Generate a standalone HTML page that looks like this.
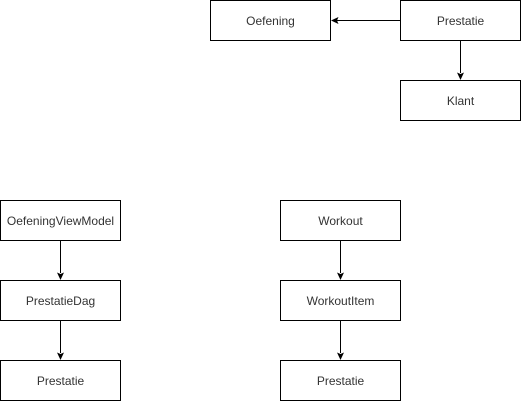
<!DOCTYPE html>
<html><head><meta charset="utf-8"><style>
html,body{margin:0;padding:0;background:#fff;width:521px;height:401px;overflow:hidden}
text{font-family:"Liberation Sans",Helvetica,Arial,sans-serif;font-size:12px;fill:#333}
</style></head><body>
<svg width="521" height="401" xmlns="http://www.w3.org/2000/svg">
<g fill="#fff" stroke="#000" stroke-width="1">
<rect x="210.5" y="0.5" width="120" height="40"/>
<rect x="400.5" y="0.5" width="120" height="40"/>
<rect x="400.5" y="80.5" width="120" height="40"/>
<rect x="0.5" y="200.5" width="120" height="40"/>
<rect x="0.5" y="280.5" width="120" height="40"/>
<rect x="0.5" y="360.5" width="120" height="40"/>
<rect x="280.5" y="200.5" width="120" height="40"/>
<rect x="280.5" y="280.5" width="120" height="40"/>
<rect x="280.5" y="360.5" width="120" height="40"/>
</g>
<g stroke="#000" stroke-width="1" fill="none">
<line x1="400" y1="20.5" x2="337" y2="20.5"/>
<line x1="460.5" y1="40" x2="460.5" y2="73"/>
<line x1="60.5" y1="240" x2="60.5" y2="273"/>
<line x1="60.5" y1="320" x2="60.5" y2="353"/>
<line x1="340.5" y1="240" x2="340.5" y2="273"/>
<line x1="340.5" y1="320" x2="340.5" y2="353"/>
</g>
<g fill="#000">
<path d="M331,20.5 L338.5,17 L337,20.5 L338.5,24 Z"/>
<path d="M460.5,80 L457,72.5 L460.5,74 L464,72.5 Z"/>
<path d="M60.5,280 L57,272.5 L60.5,274 L64,272.5 Z"/>
<path d="M60.5,360 L57,352.5 L60.5,354 L64,352.5 Z"/>
<path d="M340.5,280 L337,272.5 L340.5,274 L344,272.5 Z"/>
<path d="M340.5,360 L337,352.5 L340.5,354 L344,352.5 Z"/>
</g>
<g text-anchor="middle">
<text x="270.5" y="25">Oefening</text>
<text x="460.5" y="25">Prestatie</text>
<text x="460.5" y="105">Klant</text>
<text x="60.5" y="225">OefeningViewModel</text>
<text x="60.5" y="305">PrestatieDag</text>
<text x="60.5" y="385">Prestatie</text>
<text x="340.5" y="225">Workout</text>
<text x="340.5" y="305">WorkoutItem</text>
<text x="340.5" y="385">Prestatie</text>
</g>
</svg>
</body></html>
